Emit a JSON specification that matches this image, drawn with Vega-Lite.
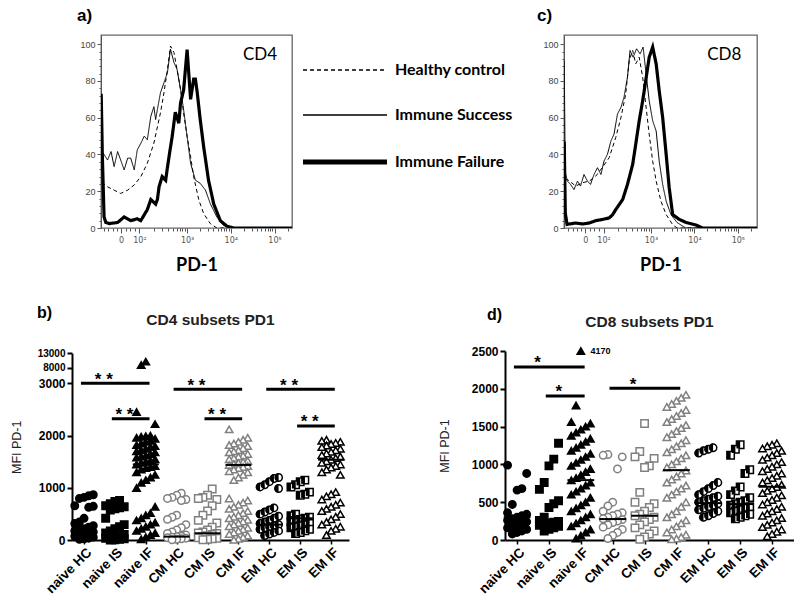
{
"$schema":"https://vega.github.io/schema/vega-lite/v6.json",
"padding":{"left":10,"top":6,"right":0,"bottom":0},
"background":"white",
"config":{"view":{"stroke":null},"font":"Liberation Sans","axis":{"labelOverlap":false,"labelFlush":false,"tickCount":50}},
"datasets":{
"hist":[
{"p":"CD4","s":"Healthy control","x":1.04,"y":24.5},{"p":"CD4","s":"Healthy control","x":1.08,"y":24.3},{"p":"CD4","s":"Healthy control","x":1.18,"y":22.4},{"p":"CD4","s":"Healthy control","x":1.33,"y":20.6},{"p":"CD4","s":"Healthy control","x":1.48,"y":18.8},{"p":"CD4","s":"Healthy control","x":1.64,"y":20.6},{"p":"CD4","s":"Healthy control","x":1.79,"y":23.4},{"p":"CD4","s":"Healthy control","x":1.94,"y":27.9},{"p":"CD4","s":"Healthy control","x":2.09,"y":35.2},{"p":"CD4","s":"Healthy control","x":2.24,"y":46.2},{"p":"CD4","s":"Healthy control","x":2.39,"y":62.6},{"p":"CD4","s":"Healthy control","x":2.47,"y":73.5},{"p":"CD4","s":"Healthy control","x":2.55,"y":86.3},{"p":"CD4","s":"Healthy control","x":2.62,"y":99},{"p":"CD4","s":"Healthy control","x":2.7,"y":95.4},{"p":"CD4","s":"Healthy control","x":2.77,"y":86.3},{"p":"CD4","s":"Healthy control","x":2.85,"y":75.4},{"p":"CD4","s":"Healthy control","x":2.92,"y":62.6},{"p":"CD4","s":"Healthy control","x":3.0,"y":49.8},{"p":"CD4","s":"Healthy control","x":3.08,"y":38.9},{"p":"CD4","s":"Healthy control","x":3.15,"y":27.9},{"p":"CD4","s":"Healthy control","x":3.27,"y":15.1},{"p":"CD4","s":"Healthy control","x":3.38,"y":7.8},{"p":"CD4","s":"Healthy control","x":3.53,"y":2.4},{"p":"CD4","s":"Healthy control","x":3.68,"y":0},{"p":"CD4","s":"Healthy control","x":5.4,"y":0},
{"p":"CD4","s":"Immune Success","x":1.04,"y":40},{"p":"CD4","s":"Immune Success","x":1.08,"y":40.7},{"p":"CD4","s":"Immune Success","x":1.18,"y":37},{"p":"CD4","s":"Immune Success","x":1.26,"y":41.6},{"p":"CD4","s":"Immune Success","x":1.33,"y":33.4},{"p":"CD4","s":"Immune Success","x":1.41,"y":41.6},{"p":"CD4","s":"Immune Success","x":1.48,"y":37},{"p":"CD4","s":"Immune Success","x":1.56,"y":31.6},{"p":"CD4","s":"Immune Success","x":1.64,"y":38},{"p":"CD4","s":"Immune Success","x":1.71,"y":38},{"p":"CD4","s":"Immune Success","x":1.79,"y":31.6},{"p":"CD4","s":"Immune Success","x":1.86,"y":42.5},{"p":"CD4","s":"Immune Success","x":1.94,"y":46},{"p":"CD4","s":"Immune Success","x":2.02,"y":50},{"p":"CD4","s":"Immune Success","x":2.09,"y":48},{"p":"CD4","s":"Immune Success","x":2.17,"y":60.8},{"p":"CD4","s":"Immune Success","x":2.24,"y":66},{"p":"CD4","s":"Immune Success","x":2.28,"y":59},{"p":"CD4","s":"Immune Success","x":2.32,"y":64.4},{"p":"CD4","s":"Immune Success","x":2.39,"y":73.5},{"p":"CD4","s":"Immune Success","x":2.47,"y":79},{"p":"CD4","s":"Immune Success","x":2.55,"y":84.5},{"p":"CD4","s":"Immune Success","x":2.62,"y":97.3},{"p":"CD4","s":"Immune Success","x":2.7,"y":90},{"p":"CD4","s":"Immune Success","x":2.77,"y":86.3},{"p":"CD4","s":"Immune Success","x":2.85,"y":75.4},{"p":"CD4","s":"Immune Success","x":2.92,"y":64.4},{"p":"CD4","s":"Immune Success","x":3.0,"y":49.8},{"p":"CD4","s":"Immune Success","x":3.08,"y":35.2},{"p":"CD4","s":"Immune Success","x":3.19,"y":26},{"p":"CD4","s":"Immune Success","x":3.3,"y":24.3},{"p":"CD4","s":"Immune Success","x":3.42,"y":20.6},{"p":"CD4","s":"Immune Success","x":3.53,"y":13.3},{"p":"CD4","s":"Immune Success","x":3.68,"y":6},{"p":"CD4","s":"Immune Success","x":3.83,"y":1.5},{"p":"CD4","s":"Immune Success","x":3.98,"y":0},{"p":"CD4","s":"Immune Success","x":5.4,"y":0},
{"p":"CD4","s":"Immune Failure","x":1.035,"y":73},{"p":"CD4","s":"Immune Failure","x":1.06,"y":40},{"p":"CD4","s":"Immune Failure","x":1.1,"y":6},{"p":"CD4","s":"Immune Failure","x":1.14,"y":3},{"p":"CD4","s":"Immune Failure","x":1.22,"y":2.4},{"p":"CD4","s":"Immune Failure","x":1.41,"y":3},{"p":"CD4","s":"Immune Failure","x":1.56,"y":6},{"p":"CD4","s":"Immune Failure","x":1.71,"y":4},{"p":"CD4","s":"Immune Failure","x":1.86,"y":5},{"p":"CD4","s":"Immune Failure","x":1.94,"y":4},{"p":"CD4","s":"Immune Failure","x":2.09,"y":10},{"p":"CD4","s":"Immune Failure","x":2.17,"y":15.5},{"p":"CD4","s":"Immune Failure","x":2.28,"y":13},{"p":"CD4","s":"Immune Failure","x":2.32,"y":15.5},{"p":"CD4","s":"Immune Failure","x":2.36,"y":22.6},{"p":"CD4","s":"Immune Failure","x":2.43,"y":28},{"p":"CD4","s":"Immune Failure","x":2.51,"y":26},{"p":"CD4","s":"Immune Failure","x":2.55,"y":33},{"p":"CD4","s":"Immune Failure","x":2.62,"y":44},{"p":"CD4","s":"Immune Failure","x":2.66,"y":50},{"p":"CD4","s":"Immune Failure","x":2.73,"y":63},{"p":"CD4","s":"Immune Failure","x":2.81,"y":57},{"p":"CD4","s":"Immune Failure","x":2.85,"y":68},{"p":"CD4","s":"Immune Failure","x":2.92,"y":75},{"p":"CD4","s":"Immune Failure","x":3.0,"y":97},{"p":"CD4","s":"Immune Failure","x":3.08,"y":70},{"p":"CD4","s":"Immune Failure","x":3.15,"y":81},{"p":"CD4","s":"Immune Failure","x":3.19,"y":81},{"p":"CD4","s":"Immune Failure","x":3.23,"y":74},{"p":"CD4","s":"Immune Failure","x":3.3,"y":59},{"p":"CD4","s":"Immune Failure","x":3.38,"y":44},{"p":"CD4","s":"Immune Failure","x":3.49,"y":26},{"p":"CD4","s":"Immune Failure","x":3.61,"y":13},{"p":"CD4","s":"Immune Failure","x":3.76,"y":4},{"p":"CD4","s":"Immune Failure","x":3.91,"y":1},{"p":"CD4","s":"Immune Failure","x":4.06,"y":0},{"p":"CD4","s":"Immune Failure","x":5.4,"y":0},
{"p":"CD8","s":"Healthy control","x":1.03,"y":26},{"p":"CD8","s":"Healthy control","x":1.08,"y":26.4},{"p":"CD8","s":"Healthy control","x":1.27,"y":22.8},{"p":"CD8","s":"Healthy control","x":1.42,"y":24.6},{"p":"CD8","s":"Healthy control","x":1.58,"y":25.5},{"p":"CD8","s":"Healthy control","x":1.73,"y":28.2},{"p":"CD8","s":"Healthy control","x":1.88,"y":32.8},{"p":"CD8","s":"Healthy control","x":2.04,"y":38.3},{"p":"CD8","s":"Healthy control","x":2.19,"y":49.2},{"p":"CD8","s":"Healthy control","x":2.31,"y":60.1},{"p":"CD8","s":"Healthy control","x":2.42,"y":72.9},{"p":"CD8","s":"Healthy control","x":2.5,"y":91.1},{"p":"CD8","s":"Healthy control","x":2.58,"y":96.6},{"p":"CD8","s":"Healthy control","x":2.65,"y":89.3},{"p":"CD8","s":"Healthy control","x":2.73,"y":92.9},{"p":"CD8","s":"Healthy control","x":2.81,"y":82},{"p":"CD8","s":"Healthy control","x":2.88,"y":67.4},{"p":"CD8","s":"Healthy control","x":2.96,"y":51},{"p":"CD8","s":"Healthy control","x":3.04,"y":36.4},{"p":"CD8","s":"Healthy control","x":3.12,"y":25.5},{"p":"CD8","s":"Healthy control","x":3.23,"y":14.6},{"p":"CD8","s":"Healthy control","x":3.35,"y":7.3},{"p":"CD8","s":"Healthy control","x":3.5,"y":1.8},{"p":"CD8","s":"Healthy control","x":3.6,"y":0},{"p":"CD8","s":"Healthy control","x":5.44,"y":0},
{"p":"CD8","s":"Immune Success","x":1.005,"y":91},{"p":"CD8","s":"Immune Success","x":1.03,"y":30},{"p":"CD8","s":"Immune Success","x":1.08,"y":25.5},{"p":"CD8","s":"Immune Success","x":1.15,"y":23.7},{"p":"CD8","s":"Immune Success","x":1.23,"y":20.9},{"p":"CD8","s":"Immune Success","x":1.31,"y":25.5},{"p":"CD8","s":"Immune Success","x":1.38,"y":22.8},{"p":"CD8","s":"Immune Success","x":1.46,"y":29.1},{"p":"CD8","s":"Immune Success","x":1.54,"y":25.5},{"p":"CD8","s":"Immune Success","x":1.61,"y":23.7},{"p":"CD8","s":"Immune Success","x":1.69,"y":29.1},{"p":"CD8","s":"Immune Success","x":1.77,"y":32.8},{"p":"CD8","s":"Immune Success","x":1.85,"y":29.1},{"p":"CD8","s":"Immune Success","x":1.92,"y":36.4},{"p":"CD8","s":"Immune Success","x":2.0,"y":40.1},{"p":"CD8","s":"Immune Success","x":2.08,"y":47.4},{"p":"CD8","s":"Immune Success","x":2.15,"y":51},{"p":"CD8","s":"Immune Success","x":2.23,"y":62},{"p":"CD8","s":"Immune Success","x":2.31,"y":65.6},{"p":"CD8","s":"Immune Success","x":2.38,"y":71.1},{"p":"CD8","s":"Immune Success","x":2.46,"y":82},{"p":"CD8","s":"Immune Success","x":2.52,"y":96.6},{"p":"CD8","s":"Immune Success","x":2.59,"y":92.9},{"p":"CD8","s":"Immune Success","x":2.67,"y":97.5},{"p":"CD8","s":"Immune Success","x":2.75,"y":94.7},{"p":"CD8","s":"Immune Success","x":2.82,"y":98.4},{"p":"CD8","s":"Immune Success","x":2.88,"y":85.6},{"p":"CD8","s":"Immune Success","x":2.96,"y":69.2},{"p":"CD8","s":"Immune Success","x":3.04,"y":58.3},{"p":"CD8","s":"Immune Success","x":3.12,"y":52.8},{"p":"CD8","s":"Immune Success","x":3.19,"y":36.4},{"p":"CD8","s":"Immune Success","x":3.27,"y":23.7},{"p":"CD8","s":"Immune Success","x":3.35,"y":14.6},{"p":"CD8","s":"Immune Success","x":3.46,"y":7.3},{"p":"CD8","s":"Immune Success","x":3.6,"y":3},{"p":"CD8","s":"Immune Success","x":3.8,"y":0},{"p":"CD8","s":"Immune Success","x":5.44,"y":0},
{"p":"CD8","s":"Immune Failure","x":1.005,"y":47},{"p":"CD8","s":"Immune Failure","x":1.03,"y":8},{"p":"CD8","s":"Immune Failure","x":1.07,"y":2},{"p":"CD8","s":"Immune Failure","x":1.27,"y":2.7},{"p":"CD8","s":"Immune Failure","x":1.42,"y":2.2},{"p":"CD8","s":"Immune Failure","x":1.58,"y":2.7},{"p":"CD8","s":"Immune Failure","x":1.73,"y":4},{"p":"CD8","s":"Immune Failure","x":1.88,"y":4.6},{"p":"CD8","s":"Immune Failure","x":2.04,"y":5.5},{"p":"CD8","s":"Immune Failure","x":2.12,"y":7.3},{"p":"CD8","s":"Immune Failure","x":2.19,"y":10},{"p":"CD8","s":"Immune Failure","x":2.35,"y":15.5},{"p":"CD8","s":"Immune Failure","x":2.46,"y":23.7},{"p":"CD8","s":"Immune Failure","x":2.58,"y":34.6},{"p":"CD8","s":"Immune Failure","x":2.65,"y":45.5},{"p":"CD8","s":"Immune Failure","x":2.73,"y":58.3},{"p":"CD8","s":"Immune Failure","x":2.81,"y":69.2},{"p":"CD8","s":"Immune Failure","x":2.88,"y":80.1},{"p":"CD8","s":"Immune Failure","x":2.96,"y":92.9},{"p":"CD8","s":"Immune Failure","x":3.04,"y":98.4},{"p":"CD8","s":"Immune Failure","x":3.12,"y":89.3},{"p":"CD8","s":"Immune Failure","x":3.19,"y":74.7},{"p":"CD8","s":"Immune Failure","x":3.27,"y":60.1},{"p":"CD8","s":"Immune Failure","x":3.35,"y":40.1},{"p":"CD8","s":"Immune Failure","x":3.42,"y":21.9},{"p":"CD8","s":"Immune Failure","x":3.5,"y":7.3},{"p":"CD8","s":"Immune Failure","x":3.65,"y":4.7},{"p":"CD8","s":"Immune Failure","x":3.81,"y":3},{"p":"CD8","s":"Immune Failure","x":4.04,"y":1.6},{"p":"CD8","s":"Immune Failure","x":4.19,"y":0},{"p":"CD8","s":"Immune Failure","x":5.44,"y":0}
],
"pts":[
{"p":"CD4","g":"naive HC","v":870},{"p":"CD4","g":"naive HC","v":850},{"p":"CD4","g":"naive HC","v":820},{"p":"CD4","g":"naive HC","v":800},{"p":"CD4","g":"naive HC","v":660},{"p":"CD4","g":"naive HC","v":650},{"p":"CD4","g":"naive HC","v":630},{"p":"CD4","g":"naive HC","v":420},{"p":"CD4","g":"naive HC","v":350},{"p":"CD4","g":"naive HC","v":320},{"p":"CD4","g":"naive HC","v":280},{"p":"CD4","g":"naive HC","v":250},{"p":"CD4","g":"naive HC","v":220},{"p":"CD4","g":"naive HC","v":200},{"p":"CD4","g":"naive HC","v":180},{"p":"CD4","g":"naive HC","v":160},{"p":"CD4","g":"naive HC","v":140},{"p":"CD4","g":"naive HC","v":120},{"p":"CD4","g":"naive HC","v":100},{"p":"CD4","g":"naive HC","v":80},{"p":"CD4","g":"naive HC","v":60},{"p":"CD4","g":"naive HC","v":40},{"p":"CD4","g":"naive HC","v":30},{"p":"CD4","g":"naive HC","v":20},
{"p":"CD4","g":"naive IS","v":760},{"p":"CD4","g":"naive IS","v":740},{"p":"CD4","g":"naive IS","v":700},{"p":"CD4","g":"naive IS","v":660},{"p":"CD4","g":"naive IS","v":640},{"p":"CD4","g":"naive IS","v":620},{"p":"CD4","g":"naive IS","v":600},{"p":"CD4","g":"naive IS","v":580},{"p":"CD4","g":"naive IS","v":420},{"p":"CD4","g":"naive IS","v":300},{"p":"CD4","g":"naive IS","v":260},{"p":"CD4","g":"naive IS","v":220},{"p":"CD4","g":"naive IS","v":180},{"p":"CD4","g":"naive IS","v":140},{"p":"CD4","g":"naive IS","v":110},{"p":"CD4","g":"naive IS","v":90},{"p":"CD4","g":"naive IS","v":70},{"p":"CD4","g":"naive IS","v":50},{"p":"CD4","g":"naive IS","v":40},{"p":"CD4","g":"naive IS","v":30},{"p":"CD4","g":"naive IS","v":20},{"p":"CD4","g":"naive IS","v":10},{"p":"CD4","g":"naive IS","v":5},
{"p":"CD4","g":"naive IF","v":10100},{"p":"CD4","g":"naive IF","v":8930},{"p":"CD4","g":"naive IF","v":2450},{"p":"CD4","g":"naive IF","v":2220},{"p":"CD4","g":"naive IF","v":2000},{"p":"CD4","g":"naive IF","v":1990},{"p":"CD4","g":"naive IF","v":1980},{"p":"CD4","g":"naive IF","v":1960},{"p":"CD4","g":"naive IF","v":1940},{"p":"CD4","g":"naive IF","v":1900},{"p":"CD4","g":"naive IF","v":1880},{"p":"CD4","g":"naive IF","v":1850},{"p":"CD4","g":"naive IF","v":1820},{"p":"CD4","g":"naive IF","v":1800},{"p":"CD4","g":"naive IF","v":1780},{"p":"CD4","g":"naive IF","v":1750},{"p":"CD4","g":"naive IF","v":1720},{"p":"CD4","g":"naive IF","v":1700},{"p":"CD4","g":"naive IF","v":1680},{"p":"CD4","g":"naive IF","v":1650},{"p":"CD4","g":"naive IF","v":1620},{"p":"CD4","g":"naive IF","v":1600},{"p":"CD4","g":"naive IF","v":1580},{"p":"CD4","g":"naive IF","v":1550},{"p":"CD4","g":"naive IF","v":1520},{"p":"CD4","g":"naive IF","v":1500},{"p":"CD4","g":"naive IF","v":1480},{"p":"CD4","g":"naive IF","v":1450},{"p":"CD4","g":"naive IF","v":1420},{"p":"CD4","g":"naive IF","v":1400},{"p":"CD4","g":"naive IF","v":1380},{"p":"CD4","g":"naive IF","v":1350},{"p":"CD4","g":"naive IF","v":1300},{"p":"CD4","g":"naive IF","v":1250},{"p":"CD4","g":"naive IF","v":1200},{"p":"CD4","g":"naive IF","v":1150},{"p":"CD4","g":"naive IF","v":1100},{"p":"CD4","g":"naive IF","v":1000},{"p":"CD4","g":"naive IF","v":640},{"p":"CD4","g":"naive IF","v":520},{"p":"CD4","g":"naive IF","v":480},{"p":"CD4","g":"naive IF","v":420},{"p":"CD4","g":"naive IF","v":380},{"p":"CD4","g":"naive IF","v":340},{"p":"CD4","g":"naive IF","v":300},{"p":"CD4","g":"naive IF","v":260},{"p":"CD4","g":"naive IF","v":220},{"p":"CD4","g":"naive IF","v":180},{"p":"CD4","g":"naive IF","v":140},{"p":"CD4","g":"naive IF","v":100},{"p":"CD4","g":"naive IF","v":60},{"p":"CD4","g":"naive IF","v":20},
{"p":"CD4","g":"CM HC","v":900},{"p":"CD4","g":"CM HC","v":860},{"p":"CD4","g":"CM HC","v":820},{"p":"CD4","g":"CM HC","v":800},{"p":"CD4","g":"CM HC","v":780},{"p":"CD4","g":"CM HC","v":760},{"p":"CD4","g":"CM HC","v":480},{"p":"CD4","g":"CM HC","v":440},{"p":"CD4","g":"CM HC","v":400},{"p":"CD4","g":"CM HC","v":300},{"p":"CD4","g":"CM HC","v":240},{"p":"CD4","g":"CM HC","v":200},{"p":"CD4","g":"CM HC","v":160},{"p":"CD4","g":"CM HC","v":130},{"p":"CD4","g":"CM HC","v":100},{"p":"CD4","g":"CM HC","v":80},{"p":"CD4","g":"CM HC","v":70},{"p":"CD4","g":"CM HC","v":60},{"p":"CD4","g":"CM HC","v":50},{"p":"CD4","g":"CM HC","v":40},{"p":"CD4","g":"CM HC","v":30},{"p":"CD4","g":"CM HC","v":20},{"p":"CD4","g":"CM HC","v":10},
{"p":"CD4","g":"CM IS","v":980},{"p":"CD4","g":"CM IS","v":860},{"p":"CD4","g":"CM IS","v":820},{"p":"CD4","g":"CM IS","v":800},{"p":"CD4","g":"CM IS","v":780},{"p":"CD4","g":"CM IS","v":660},{"p":"CD4","g":"CM IS","v":560},{"p":"CD4","g":"CM IS","v":480},{"p":"CD4","g":"CM IS","v":380},{"p":"CD4","g":"CM IS","v":330},{"p":"CD4","g":"CM IS","v":250},{"p":"CD4","g":"CM IS","v":200},{"p":"CD4","g":"CM IS","v":160},{"p":"CD4","g":"CM IS","v":140},{"p":"CD4","g":"CM IS","v":130},{"p":"CD4","g":"CM IS","v":110},{"p":"CD4","g":"CM IS","v":90},{"p":"CD4","g":"CM IS","v":70},{"p":"CD4","g":"CM IS","v":50},{"p":"CD4","g":"CM IS","v":40},{"p":"CD4","g":"CM IS","v":30},{"p":"CD4","g":"CM IS","v":20},{"p":"CD4","g":"CM IS","v":10},
{"p":"CD4","g":"CM IF","v":2120},{"p":"CD4","g":"CM IF","v":1960},{"p":"CD4","g":"CM IF","v":1920},{"p":"CD4","g":"CM IF","v":1880},{"p":"CD4","g":"CM IF","v":1850},{"p":"CD4","g":"CM IF","v":1820},{"p":"CD4","g":"CM IF","v":1800},{"p":"CD4","g":"CM IF","v":1760},{"p":"CD4","g":"CM IF","v":1720},{"p":"CD4","g":"CM IF","v":1700},{"p":"CD4","g":"CM IF","v":1680},{"p":"CD4","g":"CM IF","v":1650},{"p":"CD4","g":"CM IF","v":1620},{"p":"CD4","g":"CM IF","v":1600},{"p":"CD4","g":"CM IF","v":1570},{"p":"CD4","g":"CM IF","v":1550},{"p":"CD4","g":"CM IF","v":1520},{"p":"CD4","g":"CM IF","v":1500},{"p":"CD4","g":"CM IF","v":1480},{"p":"CD4","g":"CM IF","v":1460},{"p":"CD4","g":"CM IF","v":1440},{"p":"CD4","g":"CM IF","v":1420},{"p":"CD4","g":"CM IF","v":1400},{"p":"CD4","g":"CM IF","v":1380},{"p":"CD4","g":"CM IF","v":1350},{"p":"CD4","g":"CM IF","v":1320},{"p":"CD4","g":"CM IF","v":1300},{"p":"CD4","g":"CM IF","v":1250},{"p":"CD4","g":"CM IF","v":1200},{"p":"CD4","g":"CM IF","v":1150},{"p":"CD4","g":"CM IF","v":800},{"p":"CD4","g":"CM IF","v":760},{"p":"CD4","g":"CM IF","v":720},{"p":"CD4","g":"CM IF","v":680},{"p":"CD4","g":"CM IF","v":640},{"p":"CD4","g":"CM IF","v":600},{"p":"CD4","g":"CM IF","v":560},{"p":"CD4","g":"CM IF","v":520},{"p":"CD4","g":"CM IF","v":480},{"p":"CD4","g":"CM IF","v":450},{"p":"CD4","g":"CM IF","v":420},{"p":"CD4","g":"CM IF","v":390},{"p":"CD4","g":"CM IF","v":360},{"p":"CD4","g":"CM IF","v":330},{"p":"CD4","g":"CM IF","v":300},{"p":"CD4","g":"CM IF","v":270},{"p":"CD4","g":"CM IF","v":240},{"p":"CD4","g":"CM IF","v":210},{"p":"CD4","g":"CM IF","v":180},{"p":"CD4","g":"CM IF","v":150},{"p":"CD4","g":"CM IF","v":120},{"p":"CD4","g":"CM IF","v":90},{"p":"CD4","g":"CM IF","v":60},{"p":"CD4","g":"CM IF","v":30},{"p":"CD4","g":"CM IF","v":10},
{"p":"CD4","g":"EM HC","v":1200},{"p":"CD4","g":"EM HC","v":1180},{"p":"CD4","g":"EM HC","v":1120},{"p":"CD4","g":"EM HC","v":1060},{"p":"CD4","g":"EM HC","v":1020},{"p":"CD4","g":"EM HC","v":990},{"p":"CD4","g":"EM HC","v":620},{"p":"CD4","g":"EM HC","v":580},{"p":"CD4","g":"EM HC","v":540},{"p":"CD4","g":"EM HC","v":500},{"p":"CD4","g":"EM HC","v":460},{"p":"CD4","g":"EM HC","v":420},{"p":"CD4","g":"EM HC","v":380},{"p":"CD4","g":"EM HC","v":350},{"p":"CD4","g":"EM HC","v":320},{"p":"CD4","g":"EM HC","v":300},{"p":"CD4","g":"EM HC","v":280},{"p":"CD4","g":"EM HC","v":260},{"p":"CD4","g":"EM HC","v":240},{"p":"CD4","g":"EM HC","v":210},{"p":"CD4","g":"EM HC","v":180},{"p":"CD4","g":"EM HC","v":150},{"p":"CD4","g":"EM HC","v":120},{"p":"CD4","g":"EM HC","v":90},
{"p":"CD4","g":"EM IS","v":1150},{"p":"CD4","g":"EM IS","v":1120},{"p":"CD4","g":"EM IS","v":1060},{"p":"CD4","g":"EM IS","v":1020},{"p":"CD4","g":"EM IS","v":920},{"p":"CD4","g":"EM IS","v":880},{"p":"CD4","g":"EM IS","v":860},{"p":"CD4","g":"EM IS","v":500},{"p":"CD4","g":"EM IS","v":470},{"p":"CD4","g":"EM IS","v":440},{"p":"CD4","g":"EM IS","v":420},{"p":"CD4","g":"EM IS","v":400},{"p":"CD4","g":"EM IS","v":380},{"p":"CD4","g":"EM IS","v":350},{"p":"CD4","g":"EM IS","v":320},{"p":"CD4","g":"EM IS","v":300},{"p":"CD4","g":"EM IS","v":280},{"p":"CD4","g":"EM IS","v":260},{"p":"CD4","g":"EM IS","v":240},{"p":"CD4","g":"EM IS","v":210},{"p":"CD4","g":"EM IS","v":180},{"p":"CD4","g":"EM IS","v":150},{"p":"CD4","g":"EM IS","v":130},
{"p":"CD4","g":"EM IF","v":1920},{"p":"CD4","g":"EM IF","v":1900},{"p":"CD4","g":"EM IF","v":1880},{"p":"CD4","g":"EM IF","v":1860},{"p":"CD4","g":"EM IF","v":1840},{"p":"CD4","g":"EM IF","v":1810},{"p":"CD4","g":"EM IF","v":1780},{"p":"CD4","g":"EM IF","v":1750},{"p":"CD4","g":"EM IF","v":1720},{"p":"CD4","g":"EM IF","v":1690},{"p":"CD4","g":"EM IF","v":1660},{"p":"CD4","g":"EM IF","v":1630},{"p":"CD4","g":"EM IF","v":1600},{"p":"CD4","g":"EM IF","v":1570},{"p":"CD4","g":"EM IF","v":1540},{"p":"CD4","g":"EM IF","v":1510},{"p":"CD4","g":"EM IF","v":1480},{"p":"CD4","g":"EM IF","v":1450},{"p":"CD4","g":"EM IF","v":1420},{"p":"CD4","g":"EM IF","v":1390},{"p":"CD4","g":"EM IF","v":1350},{"p":"CD4","g":"EM IF","v":1300},{"p":"CD4","g":"EM IF","v":1250},{"p":"CD4","g":"EM IF","v":920},{"p":"CD4","g":"EM IF","v":880},{"p":"CD4","g":"EM IF","v":840},{"p":"CD4","g":"EM IF","v":780},{"p":"CD4","g":"EM IF","v":720},{"p":"CD4","g":"EM IF","v":680},{"p":"CD4","g":"EM IF","v":640},{"p":"CD4","g":"EM IF","v":600},{"p":"CD4","g":"EM IF","v":560},{"p":"CD4","g":"EM IF","v":500},{"p":"CD4","g":"EM IF","v":450},{"p":"CD4","g":"EM IF","v":400},{"p":"CD4","g":"EM IF","v":350},{"p":"CD4","g":"EM IF","v":300},{"p":"CD4","g":"EM IF","v":260},{"p":"CD4","g":"EM IF","v":220},{"p":"CD4","g":"EM IF","v":180},{"p":"CD4","g":"EM IF","v":100},
{"p":"CD8","g":"naive HC","v":990},{"p":"CD8","g":"naive HC","v":880},{"p":"CD8","g":"naive HC","v":680},{"p":"CD8","g":"naive HC","v":660},{"p":"CD8","g":"naive HC","v":470},{"p":"CD8","g":"naive HC","v":360},{"p":"CD8","g":"naive HC","v":340},{"p":"CD8","g":"naive HC","v":320},{"p":"CD8","g":"naive HC","v":300},{"p":"CD8","g":"naive HC","v":280},{"p":"CD8","g":"naive HC","v":260},{"p":"CD8","g":"naive HC","v":240},{"p":"CD8","g":"naive HC","v":220},{"p":"CD8","g":"naive HC","v":200},{"p":"CD8","g":"naive HC","v":180},{"p":"CD8","g":"naive HC","v":160},{"p":"CD8","g":"naive HC","v":140},{"p":"CD8","g":"naive HC","v":120},{"p":"CD8","g":"naive HC","v":100},{"p":"CD8","g":"naive HC","v":80},
{"p":"CD8","g":"naive IS","v":1280},{"p":"CD8","g":"naive IS","v":1070},{"p":"CD8","g":"naive IS","v":980},{"p":"CD8","g":"naive IS","v":760},{"p":"CD8","g":"naive IS","v":670},{"p":"CD8","g":"naive IS","v":520},{"p":"CD8","g":"naive IS","v":480},{"p":"CD8","g":"naive IS","v":430},{"p":"CD8","g":"naive IS","v":300},{"p":"CD8","g":"naive IS","v":260},{"p":"CD8","g":"naive IS","v":245},{"p":"CD8","g":"naive IS","v":235},{"p":"CD8","g":"naive IS","v":225},{"p":"CD8","g":"naive IS","v":210},{"p":"CD8","g":"naive IS","v":195},{"p":"CD8","g":"naive IS","v":180},{"p":"CD8","g":"naive IS","v":160},{"p":"CD8","g":"naive IS","v":140},{"p":"CD8","g":"naive IS","v":120},
{"p":"CD8","g":"naive IF","v":4170},{"p":"CD8","g":"naive IF","v":1780},{"p":"CD8","g":"naive IF","v":1560},{"p":"CD8","g":"naive IF","v":1540},{"p":"CD8","g":"naive IF","v":1500},{"p":"CD8","g":"naive IF","v":1460},{"p":"CD8","g":"naive IF","v":1420},{"p":"CD8","g":"naive IF","v":1380},{"p":"CD8","g":"naive IF","v":1340},{"p":"CD8","g":"naive IF","v":1300},{"p":"CD8","g":"naive IF","v":1260},{"p":"CD8","g":"naive IF","v":1220},{"p":"CD8","g":"naive IF","v":1180},{"p":"CD8","g":"naive IF","v":1140},{"p":"CD8","g":"naive IF","v":1100},{"p":"CD8","g":"naive IF","v":1060},{"p":"CD8","g":"naive IF","v":1020},{"p":"CD8","g":"naive IF","v":980},{"p":"CD8","g":"naive IF","v":940},{"p":"CD8","g":"naive IF","v":900},{"p":"CD8","g":"naive IF","v":860},{"p":"CD8","g":"naive IF","v":820},{"p":"CD8","g":"naive IF","v":790},{"p":"CD8","g":"naive IF","v":760},{"p":"CD8","g":"naive IF","v":720},{"p":"CD8","g":"naive IF","v":680},{"p":"CD8","g":"naive IF","v":640},{"p":"CD8","g":"naive IF","v":600},{"p":"CD8","g":"naive IF","v":560},{"p":"CD8","g":"naive IF","v":500},{"p":"CD8","g":"naive IF","v":460},{"p":"CD8","g":"naive IF","v":420},{"p":"CD8","g":"naive IF","v":380},{"p":"CD8","g":"naive IF","v":340},{"p":"CD8","g":"naive IF","v":300},{"p":"CD8","g":"naive IF","v":260},{"p":"CD8","g":"naive IF","v":220},{"p":"CD8","g":"naive IF","v":180},{"p":"CD8","g":"naive IF","v":140},{"p":"CD8","g":"naive IF","v":100},{"p":"CD8","g":"naive IF","v":60},{"p":"CD8","g":"naive IF","v":20},
{"p":"CD8","g":"CM HC","v":1130},{"p":"CD8","g":"CM HC","v":1120},{"p":"CD8","g":"CM HC","v":1100},{"p":"CD8","g":"CM HC","v":940},{"p":"CD8","g":"CM HC","v":500},{"p":"CD8","g":"CM HC","v":450},{"p":"CD8","g":"CM HC","v":380},{"p":"CD8","g":"CM HC","v":360},{"p":"CD8","g":"CM HC","v":340},{"p":"CD8","g":"CM HC","v":320},{"p":"CD8","g":"CM HC","v":300},{"p":"CD8","g":"CM HC","v":280},{"p":"CD8","g":"CM HC","v":270},{"p":"CD8","g":"CM HC","v":250},{"p":"CD8","g":"CM HC","v":230},{"p":"CD8","g":"CM HC","v":200},{"p":"CD8","g":"CM HC","v":170},{"p":"CD8","g":"CM HC","v":140},{"p":"CD8","g":"CM HC","v":100},{"p":"CD8","g":"CM HC","v":60},{"p":"CD8","g":"CM HC","v":20},
{"p":"CD8","g":"CM IS","v":1540},{"p":"CD8","g":"CM IS","v":1170},{"p":"CD8","g":"CM IS","v":1100},{"p":"CD8","g":"CM IS","v":1080},{"p":"CD8","g":"CM IS","v":980},{"p":"CD8","g":"CM IS","v":960},{"p":"CD8","g":"CM IS","v":630},{"p":"CD8","g":"CM IS","v":500},{"p":"CD8","g":"CM IS","v":480},{"p":"CD8","g":"CM IS","v":430},{"p":"CD8","g":"CM IS","v":380},{"p":"CD8","g":"CM IS","v":340},{"p":"CD8","g":"CM IS","v":320},{"p":"CD8","g":"CM IS","v":300},{"p":"CD8","g":"CM IS","v":270},{"p":"CD8","g":"CM IS","v":240},{"p":"CD8","g":"CM IS","v":200},{"p":"CD8","g":"CM IS","v":160},{"p":"CD8","g":"CM IS","v":120},{"p":"CD8","g":"CM IS","v":80},{"p":"CD8","g":"CM IS","v":40},{"p":"CD8","g":"CM IS","v":10},
{"p":"CD8","g":"CM IF","v":1920},{"p":"CD8","g":"CM IF","v":1880},{"p":"CD8","g":"CM IF","v":1840},{"p":"CD8","g":"CM IF","v":1800},{"p":"CD8","g":"CM IF","v":1760},{"p":"CD8","g":"CM IF","v":1720},{"p":"CD8","g":"CM IF","v":1680},{"p":"CD8","g":"CM IF","v":1640},{"p":"CD8","g":"CM IF","v":1600},{"p":"CD8","g":"CM IF","v":1560},{"p":"CD8","g":"CM IF","v":1520},{"p":"CD8","g":"CM IF","v":1480},{"p":"CD8","g":"CM IF","v":1440},{"p":"CD8","g":"CM IF","v":1400},{"p":"CD8","g":"CM IF","v":1360},{"p":"CD8","g":"CM IF","v":1320},{"p":"CD8","g":"CM IF","v":1280},{"p":"CD8","g":"CM IF","v":1240},{"p":"CD8","g":"CM IF","v":1200},{"p":"CD8","g":"CM IF","v":1160},{"p":"CD8","g":"CM IF","v":1120},{"p":"CD8","g":"CM IF","v":1080},{"p":"CD8","g":"CM IF","v":1040},{"p":"CD8","g":"CM IF","v":1000},{"p":"CD8","g":"CM IF","v":960},{"p":"CD8","g":"CM IF","v":920},{"p":"CD8","g":"CM IF","v":880},{"p":"CD8","g":"CM IF","v":840},{"p":"CD8","g":"CM IF","v":800},{"p":"CD8","g":"CM IF","v":760},{"p":"CD8","g":"CM IF","v":720},{"p":"CD8","g":"CM IF","v":680},{"p":"CD8","g":"CM IF","v":640},{"p":"CD8","g":"CM IF","v":600},{"p":"CD8","g":"CM IF","v":560},{"p":"CD8","g":"CM IF","v":500},{"p":"CD8","g":"CM IF","v":440},{"p":"CD8","g":"CM IF","v":380},{"p":"CD8","g":"CM IF","v":340},{"p":"CD8","g":"CM IF","v":300},{"p":"CD8","g":"CM IF","v":260},{"p":"CD8","g":"CM IF","v":220},{"p":"CD8","g":"CM IF","v":180},{"p":"CD8","g":"CM IF","v":140},{"p":"CD8","g":"CM IF","v":100},{"p":"CD8","g":"CM IF","v":70},{"p":"CD8","g":"CM IF","v":40},{"p":"CD8","g":"CM IF","v":20},{"p":"CD8","g":"CM IF","v":10},
{"p":"CD8","g":"EM HC","v":1220},{"p":"CD8","g":"EM HC","v":1200},{"p":"CD8","g":"EM HC","v":1180},{"p":"CD8","g":"EM HC","v":1150},{"p":"CD8","g":"EM HC","v":760},{"p":"CD8","g":"EM HC","v":720},{"p":"CD8","g":"EM HC","v":680},{"p":"CD8","g":"EM HC","v":640},{"p":"CD8","g":"EM HC","v":600},{"p":"CD8","g":"EM HC","v":580},{"p":"CD8","g":"EM HC","v":560},{"p":"CD8","g":"EM HC","v":540},{"p":"CD8","g":"EM HC","v":520},{"p":"CD8","g":"EM HC","v":500},{"p":"CD8","g":"EM HC","v":480},{"p":"CD8","g":"EM HC","v":460},{"p":"CD8","g":"EM HC","v":440},{"p":"CD8","g":"EM HC","v":420},{"p":"CD8","g":"EM HC","v":400},{"p":"CD8","g":"EM HC","v":380},{"p":"CD8","g":"EM HC","v":350},{"p":"CD8","g":"EM HC","v":320},{"p":"CD8","g":"EM HC","v":300},
{"p":"CD8","g":"EM IS","v":1260},{"p":"CD8","g":"EM IS","v":1200},{"p":"CD8","g":"EM IS","v":1120},{"p":"CD8","g":"EM IS","v":930},{"p":"CD8","g":"EM IS","v":880},{"p":"CD8","g":"EM IS","v":700},{"p":"CD8","g":"EM IS","v":650},{"p":"CD8","g":"EM IS","v":600},{"p":"CD8","g":"EM IS","v":560},{"p":"CD8","g":"EM IS","v":520},{"p":"CD8","g":"EM IS","v":500},{"p":"CD8","g":"EM IS","v":480},{"p":"CD8","g":"EM IS","v":460},{"p":"CD8","g":"EM IS","v":440},{"p":"CD8","g":"EM IS","v":420},{"p":"CD8","g":"EM IS","v":400},{"p":"CD8","g":"EM IS","v":380},{"p":"CD8","g":"EM IS","v":360},{"p":"CD8","g":"EM IS","v":340},{"p":"CD8","g":"EM IS","v":320},{"p":"CD8","g":"EM IS","v":300},{"p":"CD8","g":"EM IS","v":280},
{"p":"CD8","g":"EM IF","v":1280},{"p":"CD8","g":"EM IF","v":1260},{"p":"CD8","g":"EM IF","v":1240},{"p":"CD8","g":"EM IF","v":1210},{"p":"CD8","g":"EM IF","v":1180},{"p":"CD8","g":"EM IF","v":1150},{"p":"CD8","g":"EM IF","v":1120},{"p":"CD8","g":"EM IF","v":1090},{"p":"CD8","g":"EM IF","v":1060},{"p":"CD8","g":"EM IF","v":1030},{"p":"CD8","g":"EM IF","v":1000},{"p":"CD8","g":"EM IF","v":970},{"p":"CD8","g":"EM IF","v":940},{"p":"CD8","g":"EM IF","v":910},{"p":"CD8","g":"EM IF","v":880},{"p":"CD8","g":"EM IF","v":850},{"p":"CD8","g":"EM IF","v":820},{"p":"CD8","g":"EM IF","v":790},{"p":"CD8","g":"EM IF","v":760},{"p":"CD8","g":"EM IF","v":730},{"p":"CD8","g":"EM IF","v":700},{"p":"CD8","g":"EM IF","v":680},{"p":"CD8","g":"EM IF","v":650},{"p":"CD8","g":"EM IF","v":620},{"p":"CD8","g":"EM IF","v":590},{"p":"CD8","g":"EM IF","v":560},{"p":"CD8","g":"EM IF","v":530},{"p":"CD8","g":"EM IF","v":500},{"p":"CD8","g":"EM IF","v":470},{"p":"CD8","g":"EM IF","v":440},{"p":"CD8","g":"EM IF","v":410},{"p":"CD8","g":"EM IF","v":380},{"p":"CD8","g":"EM IF","v":350},{"p":"CD8","g":"EM IF","v":320},{"p":"CD8","g":"EM IF","v":290},{"p":"CD8","g":"EM IF","v":260},{"p":"CD8","g":"EM IF","v":230},{"p":"CD8","g":"EM IF","v":200},{"p":"CD8","g":"EM IF","v":170},{"p":"CD8","g":"EM IF","v":140},{"p":"CD8","g":"EM IF","v":110},{"p":"CD8","g":"EM IF","v":80},{"p":"CD8","g":"EM IF","v":50}
],
"med":[
{"p":"CD4","g":"naive HC","v":150},{"p":"CD4","g":"naive IS","v":100},{"p":"CD4","g":"naive IF","v":1450},{"p":"CD4","g":"CM HC","v":70},{"p":"CD4","g":"CM IS","v":134},{"p":"CD4","g":"CM IF","v":1440},{"p":"CD4","g":"EM HC","v":300},{"p":"CD4","g":"EM IS","v":420},{"p":"CD4","g":"EM IF","v":1540},
{"p":"CD8","g":"naive HC","v":300},{"p":"CD8","g":"naive IS","v":242},{"p":"CD8","g":"naive IF","v":792},{"p":"CD8","g":"CM HC","v":277},{"p":"CD8","g":"CM IS","v":321},{"p":"CD8","g":"CM IF","v":924},{"p":"CD8","g":"EM HC","v":488},{"p":"CD8","g":"EM IS","v":475},{"p":"CD8","g":"EM IF","v":704}
],
"sig":[
{"p":"CD4","from":"naive HC","to":"naive IF","y":3000,"lab":"* *"},{"p":"CD4","from":"naive IS","to":"naive IF","y":2325,"lab":"* *"},{"p":"CD4","from":"CM HC","to":"CM IF","y":2885,"lab":"* *"},{"p":"CD4","from":"CM IS","to":"CM IF","y":2325,"lab":"* *"},{"p":"CD4","from":"EM HC","to":"EM IF","y":2885,"lab":"* *"},{"p":"CD4","from":"EM IS","to":"EM IF","y":2185,"lab":"* *"},
{"p":"CD8","from":"naive HC","to":"naive IF","y":2290,"lab":"*"},{"p":"CD8","from":"naive IS","to":"naive IF","y":1906,"lab":"*"},{"p":"CD8","from":"CM HC","to":"CM IF","y":2007,"lab":"*"}
],
"ann":[{"p":"CD8","g":"naive IF","v":4170,"lab":"4170"}]
},
"spacing":29,
"vconcat":[
{"hconcat":[
 {"width":1,"height":10,"data":{"values":[{}]},"mark":{"type":"point","opacity":0}},
 {"width":191,"height":193,"view":{"stroke":"#666","strokeWidth":1.3},
  "title":{"text":"a)","anchor":"start","frame":"group","dx":-24,"offset":10,"fontSize":17,"fontWeight":"bold","font":"Liberation Sans","color":"black"},
  "layer":[
   {"data":{"name":"hist"},"transform":[{"filter":"datum.p === 'CD4'"}],
    "mark":{"type":"line","clip":true,"stroke":"black"},
    "encoding":{
     "x":{"field":"x","type":"quantitative","scale":{"domain":[1.03,5.4],"nice":false,"zero":false},
      "axis":{"values":[1.1,1.2,1.3,1.4,1.49,1.6,1.7,1.8,1.91,2.24,2.43,2.57,2.67,2.76,2.83,2.89,2.95,3,3.3,3.48,3.6,3.7,3.78,3.85,3.9,3.95,4,4.3,4.48,4.6,4.7,4.78,4.85,4.9,4.95,5,5.3],"tickCount":50,
       "labelExpr":"datum.value == 1.49 ? '0' : datum.value == 1.91 ? '10²' : datum.value == 3 ? '10³' : datum.value == 4 ? '10⁴' : datum.value == 5 ? '10⁵' : ''",
       "tickSize":{"condition":{"test":"datum.value == 1.49 || datum.value == 1.91 || datum.value == 3 || datum.value == 4 || datum.value == 5","value":5},"value":3},
       "labelFont":"DejaVu Sans","labelFontSize":8,"labelColor":"#555","labelPadding":3,
       "domain":false,"tickColor":"#555","grid":false,
       "title":"PD-1","titleFont":"Lato","titleFontSize":18,"titleFontWeight":"bold","titleColor":"black","titlePadding":12}},
     "y":{"field":"y","type":"quantitative","scale":{"domain":[0,105],"nice":false,"zero":false},
      "axis":{"values":[0,4,8,12,16,20,24,28,32,36,40,44,48,52,56,60,64,68,72,76,80,84,88,92,96,100],"tickCount":50,
       "labelExpr":"datum.value % 20 == 0 ? datum.label : ''",
       "tickSize":{"condition":{"test":"datum.value % 20 == 0","value":4},"value":2},
       "labelFont":"Liberation Sans","labelFontSize":9,"labelColor":"#444","labelPadding":2,
       "domainColor":"#555","tickColor":"#555","grid":false,"title":null}},
     "strokeDash":{"field":"s","type":"nominal","scale":{"domain":["Healthy control","Immune Success","Immune Failure"],"range":[[4,3],[1,0],[1,0]]},
      "legend":{"orient":"none","legendX":265,"legendY":27,"title":null,"symbolType":"stroke","symbolSize":7056,"symbolStrokeColor":"black","labelFont":"Lato","labelFontSize":16,"labelFontWeight":"bold","labelColor":"black","labelOffset":42,"rowPadding":29,"labelLimit":300,
       "encode":{"symbols":{"update":{"strokeDash":{"signal":"datum.value === 'Healthy control' ? [11, 6] : [1, 0]"},"strokeWidth":{"signal":"datum.value === 'Immune Failure' ? 5 : 1.5"},"stroke":{"value":"black"}}}}}},
     "strokeWidth":{"condition":{"test":"datum.s === 'Immune Failure'","value":3.2},"value":1}
    }},
   {"data":{"values":[{"lab":"CD4"}]},"mark":{"type":"text","align":"right","baseline":"middle","font":"Lato","fontSize":17,"color":"black"},
    "encoding":{"x":{"datum":5.06,"type":"quantitative","scale":{"domain":[1.03,5.4],"nice":false,"zero":false}},"y":{"datum":94,"type":"quantitative","scale":{"domain":[0,105],"nice":false,"zero":false}},"text":{"field":"lab"}}}
  ]},
 {"width":243,"height":10,"data":{"values":[{}]},"mark":{"type":"point","opacity":0}},
 {"width":193,"height":193,"view":{"stroke":"#666","strokeWidth":1.3},
  "title":{"text":"c)","anchor":"start","frame":"group","dx":-27,"offset":10,"fontSize":17,"fontWeight":"bold","font":"Liberation Sans","color":"black"},
  "layer":[
   {"data":{"name":"hist"},"transform":[{"filter":"datum.p === 'CD8'"}],
    "mark":{"type":"line","clip":true,"stroke":"black"},
    "encoding":{
     "x":{"field":"x","type":"quantitative","scale":{"domain":[1.0,5.44],"nice":false,"zero":false},
      "axis":{"values":[1.1,1.2,1.3,1.4,1.49,1.6,1.7,1.8,1.91,2.24,2.43,2.57,2.67,2.76,2.83,2.89,2.95,3,3.3,3.48,3.6,3.7,3.78,3.85,3.9,3.95,4,4.3,4.48,4.6,4.7,4.78,4.85,4.9,4.95,5,5.3],"tickCount":50,
       "labelExpr":"datum.value == 1.49 ? '0' : datum.value == 1.91 ? '10²' : datum.value == 3 ? '10³' : datum.value == 4 ? '10⁴' : datum.value == 5 ? '10⁵' : ''",
       "tickSize":{"condition":{"test":"datum.value == 1.49 || datum.value == 1.91 || datum.value == 3 || datum.value == 4 || datum.value == 5","value":5},"value":3},
       "labelFont":"DejaVu Sans","labelFontSize":8,"labelColor":"#555","labelPadding":3,
       "domain":false,"tickColor":"#555","grid":false,
       "title":"PD-1","titleFont":"Lato","titleFontSize":18,"titleFontWeight":"bold","titleColor":"black","titlePadding":12}},
     "y":{"field":"y","type":"quantitative","scale":{"domain":[0,105],"nice":false,"zero":false},
      "axis":{"values":[0,4,8,12,16,20,24,28,32,36,40,44,48,52,56,60,64,68,72,76,80,84,88,92,96,100],"tickCount":50,
       "labelExpr":"datum.value % 20 == 0 ? datum.label : ''",
       "tickSize":{"condition":{"test":"datum.value % 20 == 0","value":4},"value":2},
       "labelFont":"Liberation Sans","labelFontSize":9,"labelColor":"#444","labelPadding":2,
       "domainColor":"#555","tickColor":"#555","grid":false,"title":null}},
     "strokeDash":{"field":"s","type":"nominal","scale":{"domain":["Healthy control","Immune Success","Immune Failure"],"range":[[4,3],[1,0],[1,0]]},
      "legend":{"orient":"none","legendX":265,"legendY":27,"title":null,"symbolType":"stroke","symbolSize":7056,"symbolStrokeColor":"black","labelFont":"Lato","labelFontSize":16,"labelFontWeight":"bold","labelColor":"black","labelOffset":42,"rowPadding":29,"labelLimit":300,
       "encode":{"symbols":{"update":{"strokeDash":{"signal":"datum.value === 'Healthy control' ? [11, 6] : [1, 0]"},"strokeWidth":{"signal":"datum.value === 'Immune Failure' ? 5 : 1.5"},"stroke":{"value":"black"}}}}}},
     "strokeWidth":{"condition":{"test":"datum.s === 'Immune Failure'","value":3.2},"value":1}
    }},
   {"data":{"values":[{"lab":"CD8"}]},"mark":{"type":"text","align":"right","baseline":"middle","font":"Lato","fontSize":17,"color":"black"},
    "encoding":{"x":{"datum":5.08,"type":"quantitative","scale":{"domain":[1.0,5.44],"nice":false,"zero":false}},"y":{"datum":94,"type":"quantitative","scale":{"domain":[0,105],"nice":false,"zero":false}},"text":{"field":"lab"}}}
  ]}
],"spacing":0},
{"hconcat":[
 {"title":{"text":"b)","anchor":"start","frame":"group","dx":-35,"offset":-8,"fontSize":16,"fontWeight":"bold","font":"Liberation Sans","color":"black"},
  "vconcat":[
  {"width":277,"height":189,
   "title":{"text":"CD4 subsets PD1","fontSize":15.5,"fontWeight":"bold","font":"Liberation Sans","color":"#222","offset":20},
   "layer":[
    {"data":{"name":"pts"},
     "transform":[{"filter":"datum.p === 'CD4'"},{"window":[{"op":"row_number","as":"r"}],"groupby":["g"],"sort":[{"field":"v","order":"ascending"}]},
      {"calculate":"indexof(['naive HC','naive IS','naive IF','CM HC','CM IS','CM IF','EM HC','EM IS','EM IF'], datum.g) + 1 + ((datum.r % 5) - 2) * 0.15","as":"xp"}],
     "layer":[
      {"mark":{"type":"point","filled":true,"size":55,"strokeWidth":1.5,"opacity":1},
       "encoding":{
        "x":{"field":"xp","type":"quantitative","scale":{"domain":[0.61,9.58],"nice":false,"zero":false},
         "axis":{"values":[1,2,3,4,5,6,7,8,9],"tickCount":50,"labelExpr":"['naive HC','naive IS','naive IF','CM HC','CM IS','CM IF','EM HC','EM IS','EM IF'][datum.value - 1]",
          "labelAngle":-45,"labelFont":"Liberation Sans","labelFontSize":13.5,"labelFontWeight":"bold","labelColor":"black","labelPadding":1,
          "title":null,"domainColor":"black","domainWidth":2,"tickColor":"black","tickWidth":1.5,"tickSize":4,"grid":false}},
        "y":{"field":"v","type":"quantitative","scale":{"domain":[0,3000,8000,13000],"range":[189.3,32.3,16.7,2.3],"nice":false,"zero":false},
         "axis":{"values":[0,1000,2000,3000,8000,13000],"tickCount":50,"format":"d","title":"MFI PD-1","titleFont":"Liberation Sans","titleFontSize":12.5,"titleFontWeight":"normal","titleColor":"#222","titlePadding":14,
          "labelFont":"Liberation Sans","labelFontSize":{"condition":{"test":"datum.value > 3000","value":10},"value":12},"labelFontWeight":"bold","labelColor":"black","labelPadding":2,
          "domainColor":"black","domainWidth":2,"tickColor":"black","tickWidth":2,"tickSize":5,"grid":false}},
        "shape":{"field":"g","type":"nominal","scale":{"domain":["naive HC","naive IS","naive IF","CM HC","CM IS","CM IF","EM HC","EM IS","EM IF"],"range":["circle","square","triangle-up","circle","square","triangle-up","circle","square","triangle-up"]},"legend":null},
        "fill":{"field":"g","type":"nominal","scale":{"domain":["naive HC","naive IS","naive IF","CM HC","CM IS","CM IF","EM HC","EM IS","EM IF"],"range":["black","black","black","white","white","white","white","white","white"]},"legend":null},
        "stroke":{"field":"g","type":"nominal","scale":{"domain":["naive HC","naive IS","naive IF","CM HC","CM IS","CM IF","EM HC","EM IS","EM IF"],"range":["black","black","black","#808080","#808080","#808080","black","black","black"]},"legend":null}
       }},
      {"transform":[{"filter":"datum.g === 'EM HC'"}],
       "mark":{"type":"point","filled":true,"shape":"M0,-1.13A1.13,1.13,0,0,0,0,1.13Z","size":55,"fill":"black","strokeWidth":0,"opacity":1},
       "encoding":{"x":{"field":"xp","type":"quantitative","scale":{"domain":[0.61,9.58],"nice":false,"zero":false}},"y":{"field":"v","type":"quantitative","scale":{"domain":[0,3000,8000,13000],"range":[189.3,32.3,16.7,2.3],"nice":false,"zero":false}}}},
      {"transform":[{"filter":"datum.g === 'EM IS'"}],
       "mark":{"type":"point","filled":true,"shape":"M-1,-1H0V1H-1Z","size":55,"fill":"black","strokeWidth":0,"opacity":1},
       "encoding":{"x":{"field":"xp","type":"quantitative","scale":{"domain":[0.61,9.58],"nice":false,"zero":false}},"y":{"field":"v","type":"quantitative","scale":{"domain":[0,3000,8000,13000],"range":[189.3,32.3,16.7,2.3],"nice":false,"zero":false}}}}
     ]},
    {"data":{"name":"med"},
     "transform":[{"filter":"datum.p === 'CD4'"},
      {"calculate":"indexof(['naive HC','naive IS','naive IF','CM HC','CM IS','CM IF','EM HC','EM IS','EM IF'], datum.g) + 1 - 0.42","as":"m1"},
      {"calculate":"indexof(['naive HC','naive IS','naive IF','CM HC','CM IS','CM IF','EM HC','EM IS','EM IF'], datum.g) + 1 + 0.42","as":"m2"}],
     "mark":{"type":"rule","strokeWidth":2,"color":"black"},
     "encoding":{"x":{"field":"m1","type":"quantitative","scale":{"domain":[0.61,9.58],"nice":false,"zero":false}},"x2":{"field":"m2"},"y":{"field":"v","type":"quantitative","scale":{"domain":[0,3000,8000,13000],"range":[189.3,32.3,16.7,2.3],"nice":false,"zero":false}}}},
    {"data":{"name":"sig"},
     "transform":[{"filter":"datum.p === 'CD4'"},
      {"calculate":"indexof(['naive HC','naive IS','naive IF','CM HC','CM IS','CM IF','EM HC','EM IS','EM IF'], datum.from) + 0.9","as":"x1"},
      {"calculate":"indexof(['naive HC','naive IS','naive IF','CM HC','CM IS','CM IF','EM HC','EM IS','EM IF'], datum.to) + 1.12","as":"x2"},
      {"calculate":"(2 * datum.x1 + datum.x2) / 3","as":"xs"}],
     "layer":[
      {"mark":{"type":"rule","strokeWidth":3,"color":"black"},
       "encoding":{"x":{"field":"x1","type":"quantitative","scale":{"domain":[0.61,9.58],"nice":false,"zero":false}},"x2":{"field":"x2"},"y":{"field":"y","type":"quantitative","scale":{"domain":[0,3000,8000,13000],"range":[189.3,32.3,16.7,2.3],"nice":false,"zero":false}}}},
      {"mark":{"type":"text","fontSize":17,"fontWeight":"bold","font":"Liberation Sans","baseline":"alphabetic","dy":1.5,"color":"black"},
       "encoding":{"x":{"field":"xs","type":"quantitative","scale":{"domain":[0.61,9.58],"nice":false,"zero":false}},"y":{"field":"y","type":"quantitative","scale":{"domain":[0,3000,8000,13000],"range":[189.3,32.3,16.7,2.3],"nice":false,"zero":false}},"text":{"field":"lab"}}}
     ]}
   ]}
  ]},
 {"title":{"text":"d)","anchor":"start","frame":"group","dx":-18,"offset":-8,"fontSize":16,"fontWeight":"bold","font":"Liberation Sans","color":"black"},
  "vconcat":[
  {"width":289,"height":189,
   "title":{"text":"CD8 subsets PD1","fontSize":15.5,"fontWeight":"bold","font":"Liberation Sans","color":"#222","offset":14},
   "layer":[
    {"data":{"name":"pts"},
     "transform":[{"filter":"datum.p === 'CD8'"},{"window":[{"op":"row_number","as":"r"}],"groupby":["g"],"sort":[{"field":"v","order":"ascending"}]},
      {"calculate":"indexof(['naive HC','naive IS','naive IF','CM HC','CM IS','CM IF','EM HC','EM IS','EM IF'], datum.g) + 1 + ((datum.r % 5) - 2) * 0.15","as":"xp"}],
     "layer":[
      {"mark":{"type":"point","filled":true,"size":55,"strokeWidth":1.5,"opacity":1},
       "encoding":{
        "x":{"field":"xp","type":"quantitative","scale":{"domain":[0.62,9.69],"nice":false,"zero":false},
         "axis":{"values":[1,2,3,4,5,6,7,8,9],"tickCount":50,"labelExpr":"['naive HC','naive IS','naive IF','CM HC','CM IS','CM IF','EM HC','EM IS','EM IF'][datum.value - 1]",
          "labelAngle":-45,"labelFont":"Liberation Sans","labelFontSize":13.5,"labelFontWeight":"bold","labelColor":"black","labelPadding":1,
          "title":null,"domainColor":"black","domainWidth":2,"tickColor":"black","tickWidth":1.5,"tickSize":4,"grid":false}},
        "y":{"field":"v","type":"quantitative","scale":{"domain":[0,2500],"nice":false,"zero":false,"clamp":true},
         "axis":{"values":[0,500,1000,1500,2000,2500],"tickCount":50,"format":"d","title":"MFI PD-1","titleFont":"Liberation Sans","titleFontSize":12.5,"titleFontWeight":"normal","titleColor":"#222","titlePadding":20,
          "labelFont":"Liberation Sans","labelFontSize":12,"labelFontWeight":"bold","labelColor":"black","labelPadding":2,
          "domainColor":"black","domainWidth":2,"tickColor":"black","tickWidth":2,"tickSize":5,"grid":false}},
        "shape":{"field":"g","type":"nominal","scale":{"domain":["naive HC","naive IS","naive IF","CM HC","CM IS","CM IF","EM HC","EM IS","EM IF"],"range":["circle","square","triangle-up","circle","square","triangle-up","circle","square","triangle-up"]},"legend":null},
        "fill":{"field":"g","type":"nominal","scale":{"domain":["naive HC","naive IS","naive IF","CM HC","CM IS","CM IF","EM HC","EM IS","EM IF"],"range":["black","black","black","white","white","white","white","white","white"]},"legend":null},
        "stroke":{"field":"g","type":"nominal","scale":{"domain":["naive HC","naive IS","naive IF","CM HC","CM IS","CM IF","EM HC","EM IS","EM IF"],"range":["black","black","black","#808080","#808080","#808080","black","black","black"]},"legend":null}
       }},
      {"transform":[{"filter":"datum.g === 'EM HC'"}],
       "mark":{"type":"point","filled":true,"shape":"M0,-1.13A1.13,1.13,0,0,0,0,1.13Z","size":55,"fill":"black","strokeWidth":0,"opacity":1},
       "encoding":{"x":{"field":"xp","type":"quantitative","scale":{"domain":[0.62,9.69],"nice":false,"zero":false}},"y":{"field":"v","type":"quantitative","scale":{"domain":[0,2500],"nice":false,"zero":false,"clamp":true}}}},
      {"transform":[{"filter":"datum.g === 'EM IS'"}],
       "mark":{"type":"point","filled":true,"shape":"M-1,-1H0V1H-1Z","size":55,"fill":"black","strokeWidth":0,"opacity":1},
       "encoding":{"x":{"field":"xp","type":"quantitative","scale":{"domain":[0.62,9.69],"nice":false,"zero":false}},"y":{"field":"v","type":"quantitative","scale":{"domain":[0,2500],"nice":false,"zero":false,"clamp":true}}}}
     ]},
    {"data":{"name":"med"},
     "transform":[{"filter":"datum.p === 'CD8'"},
      {"calculate":"indexof(['naive HC','naive IS','naive IF','CM HC','CM IS','CM IF','EM HC','EM IS','EM IF'], datum.g) + 1 - 0.42","as":"m1"},
      {"calculate":"indexof(['naive HC','naive IS','naive IF','CM HC','CM IS','CM IF','EM HC','EM IS','EM IF'], datum.g) + 1 + 0.42","as":"m2"}],
     "mark":{"type":"rule","strokeWidth":2,"color":"black"},
     "encoding":{"x":{"field":"m1","type":"quantitative","scale":{"domain":[0.62,9.69],"nice":false,"zero":false}},"x2":{"field":"m2"},"y":{"field":"v","type":"quantitative","scale":{"domain":[0,2500],"nice":false,"zero":false,"clamp":true}}}},
    {"data":{"name":"sig"},
     "transform":[{"filter":"datum.p === 'CD8'"},
      {"calculate":"indexof(['naive HC','naive IS','naive IF','CM HC','CM IS','CM IF','EM HC','EM IS','EM IF'], datum.from) + 0.9","as":"x1"},
      {"calculate":"indexof(['naive HC','naive IS','naive IF','CM HC','CM IS','CM IF','EM HC','EM IS','EM IF'], datum.to) + 1.12","as":"x2"},
      {"calculate":"(2 * datum.x1 + datum.x2) / 3","as":"xs"}],
     "layer":[
      {"mark":{"type":"rule","strokeWidth":3,"color":"black"},
       "encoding":{"x":{"field":"x1","type":"quantitative","scale":{"domain":[0.62,9.69],"nice":false,"zero":false}},"x2":{"field":"x2"},"y":{"field":"y","type":"quantitative","scale":{"domain":[0,2500],"nice":false,"zero":false,"clamp":true}}}},
      {"mark":{"type":"text","fontSize":17,"fontWeight":"bold","font":"Liberation Sans","baseline":"alphabetic","dy":1.5,"color":"black"},
       "encoding":{"x":{"field":"xs","type":"quantitative","scale":{"domain":[0.62,9.69],"nice":false,"zero":false}},"y":{"field":"y","type":"quantitative","scale":{"domain":[0,2500],"nice":false,"zero":false,"clamp":true}},"text":{"field":"lab"}}}
     ]},
    {"data":{"name":"ann"},
     "transform":[{"calculate":"indexof(['naive HC','naive IS','naive IF','CM HC','CM IS','CM IF','EM HC','EM IS','EM IF'], datum.g) + 1.3","as":"xa"}],
     "mark":{"type":"text","align":"left","baseline":"middle","fontSize":9,"fontWeight":"bold","font":"Liberation Sans","color":"black"},
     "encoding":{"x":{"field":"xa","type":"quantitative","scale":{"domain":[0.62,9.69],"nice":false,"zero":false}},"y":{"field":"v","type":"quantitative","scale":{"domain":[0,2500],"nice":false,"zero":false,"clamp":true}},"text":{"field":"lab"}}}
   ]}
  ]}
],"spacing":89}
]
}
